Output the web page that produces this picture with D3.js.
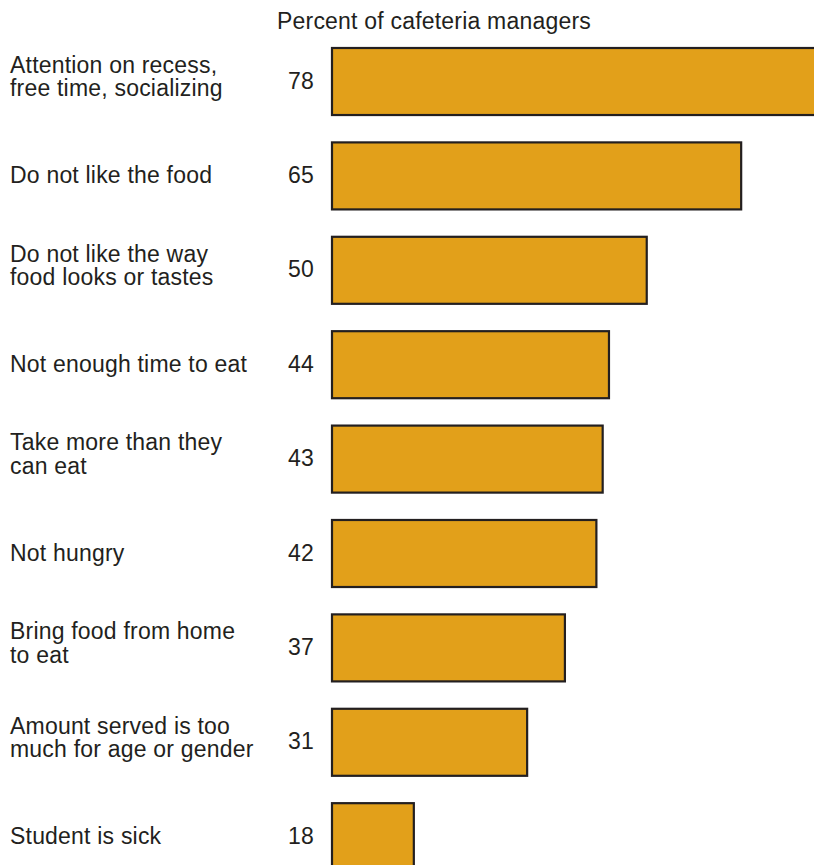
<!DOCTYPE html>
<html>
<head>
<meta charset="utf-8">
<script src="https://cdn.jsdelivr.net/npm/d3@7"></script>
<style>
  html, body { margin: 0; padding: 0; background: #fff; overflow: hidden; }
  svg { display: block; }
  text { font-family: "Liberation Sans", Arial, Helvetica, sans-serif; fill: #231f20; letter-spacing: 0.2px; }
</style>
</head>
<body>
<svg id="chart" width="814" height="865"></svg>
<script>
// reasons, one entry per bar (lines split for wrapping)
const reasons = [
  ["Attention on recess,", "free time, socializing"],
  ["Do not like the food"],
  ["Do not like the way", "food looks or tastes"],
  ["Not enough time to eat"],
  ["Take more than they", "can eat"],
  ["Not hungry"],
  ["Bring food from home", "to eat"],
  ["Amount served is too", "much for age or gender"],
  ["Student is sick"]
]
// printed percentages
const percents = [78, 65, 50, 44, 43, 42, 37, 31, 18]
// bar lengths as drawn in the source (the last bar is drawn shorter than its label)
const drawn = [78, 65, 50, 44, 43, 42, 37, 31, 13]
const title = "Percent of cafeteria managers"

function visualize() {
  let svg = d3.select("#chart")
  let ids = d3.range(percents.length)
  let fs = 23

  let x = d3.scaleLinear()
    .domain([0, 78])
    .range([332, 823])

  let y = d3.scaleBand()
    .domain(ids)
    .range([48, 870.2])
    .paddingInner(0.29)
    .paddingOuter(0)

  svg.append("text")
    .attr("x", 434)
    .attr("y", 29)
    .attr("text-anchor", "middle")
    .attr("font-size", fs)
    .text(title)

  svg.selectAll("rect.bar")
    .data(ids).enter()
    .append("rect")
    .attr("class", "bar")
    .attr("x", x(0))
    .attr("y", i => y(i))
    .attr("width", i => x(drawn[i]) - x(0))
    .attr("height", y.bandwidth())
    .attr("fill", "#e2a01a")
    .attr("stroke", "#231f20")
    .attr("stroke-width", 2.2)

  // value labels, left of the bars
  svg.selectAll("text.value")
    .data(ids).enter()
    .append("text")
    .attr("class", "value")
    .attr("x", 301)
    .attr("y", i => y(i) + y.bandwidth() / 2 - 1)
    .attr("dy", "0.35em")
    .attr("text-anchor", "middle")
    .attr("font-size", fs)
    .text(i => percents[i])

  // category labels, one or two lines
  let lineH = 23.5
  let cats = svg.selectAll("text.cat")
    .data(ids).enter()
    .append("text")
    .attr("class", "cat")
    .attr("font-size", fs)
    .attr("y", i => reasons[i].length == 1
      ? y(i) + y.bandwidth() / 2 - 1
      : y(i) + y.bandwidth() / 2 - 5 - lineH / 2)

  cats.selectAll("tspan")
    .data(i => reasons[i]).enter()
    .append("tspan")
    .attr("x", 10)
    .attr("dy", (d, j) => j == 0 ? "0.35em" : lineH)
    .text(d => d)
}

visualize()
</script>
</body>
</html>
